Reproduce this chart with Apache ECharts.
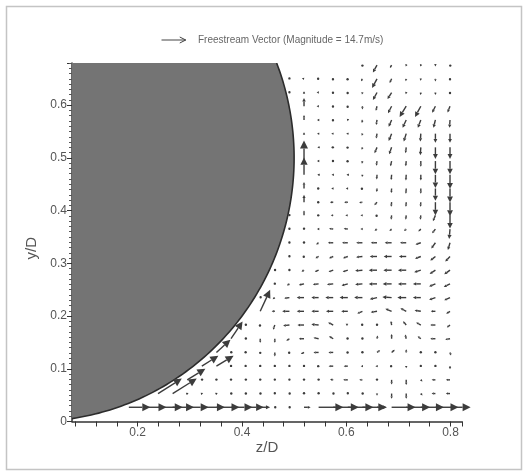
<!DOCTYPE html>
<html><head><meta charset="utf-8">
<script src="https://cdn.jsdelivr.net/npm/echarts@6/dist/echarts.min.js"></script>
<style>html,body{margin:0;padding:0;background:#fff}#c{width:528px;height:472px}</style>
</head><body><div id="c"></div>
<script>
// ---- data ----
const zCols = [0.183,0.211,0.239,0.267,0.295,0.323,0.351,0.379,0.407,0.435,0.463,0.491,0.519,0.547,0.575,0.603,0.631,0.659,0.687,0.715,0.743,0.771,0.799];
const yRows = [0.676,0.650,0.624,0.598,0.572,0.546,0.520,0.494,0.468,0.442,0.416,0.391,0.365,0.339,0.313,0.287,0.261,0.235,0.209,0.183,0.157,0.131,0.105,0.079,0.053,0.027];
const rowStart = [16,11,11,12,12,12,12,12,12,12,12,11,11,11,11,10,10,9,9,8,7,6,5,4,2,0];
// velocity components (m/s), one row per yRows entry, from column rowStart onward
const U = [
 [0,-2.5,-1,-0.3,-0.3,0,0.3],
 [0,-1.3,-0.6,-0.3,-0.3,-0.8,-3,-1.2,-0.3,-0.2,0,0],
 [0,0,-1.2,-0.3,-0.2,-0.3,-2.5,-2.5,-0.3,-0.2,0,0],
 [0,-1.2,-0.3,-0.2,0,-0.7,-2.2,-4,-3.5,-2,-1.5],
 [0,-1,-0.3,-0.2,-0.3,-0.5,-1.8,-2.2,-1.8,-1.2,-0.3],
 [0,-1,-1.2,-1,-0.4,-0.5,-1.8,-1.5,-0.3,0,0],
 [0,-0.8,-0.5,-0.3,-0.4,-1.5,-1.5,-0.4,-0.3,0,0],
 [0,-1,-0.3,-0.3,-0.3,-0.4,-0.7,-0.3,0,0,0],
 [0,-0.8,-1,-0.8,-0.2,-0.2,-0.3,-0.2,0,0,0],
 [0,-0.5,-1.2,-1.2,-0.6,-0.2,-0.2,-0.2,0,0,0],
 [0,-0.5,-2,-2.2,-2,-1.6,-0.3,-0.2,-0.2,0,0],
 [0,0,-0.5,-1.5,-1.5,-1.2,-0.5,-0.3,-0.3,-0.3,-1.5,0],
 [0,0,-1,-2.5,-2.5,-1.2,-1.5,-1.3,-1.3,-1.5,-2,-0.5],
 [0,0,-1.5,-3.2,-3.5,-3.8,-3.8,-4.2,-3.8,-3.2,-2.5,-1.3],
 [0,-0.3,-1.9,-2.5,-2.9,-3.8,-4.4,-4.8,-4.4,-3.5,-3.1,-2.9],
 [0.3,0,-1.5,-2.3,-2.8,-3.1,-4.4,-5,-5,-5,-4,-3.5,-3.5],
 [0,-1.5,-3.1,-3.5,-3.8,-3.8,-4.4,-5,-5.4,-5,-4.8,-3.8,-3.8],
 [0.5,-1.3,-3.1,-4.4,-4.4,-4.8,-5,-5,-4.4,-5.6,-5.4,-4.8,-3.8,-3.5],
 [6,-1.9,-4.4,-4.4,-4.4,-4.4,-4,-3.1,-3.8,-3.8,-3.5,-3.8,-2.8,-2.3],
 [0.3,-0.3,-1,-3.8,-4,-4.4,-3.1,-1.3,-0.3,0,-0.4,-1.9,-2.8,-3.1,-1.9],
 [7,0.3,0,0,-1.9,-3.1,-3.1,-2.5,-0.3,0,0.4,0,-0.6,-1.9,-3.1,-2.9],
 [8.5,0.3,0,0,0,-0.3,-1.9,-3.1,-2.9,-0.3,0,1.9,1.9,0,0,0,0.6],
 [10,10.4,0,0,0,0,0,0,-0.5,-2.8,-2.5,-1,-1,-0.6,0,0,0,0],
 [11,0.3,0,0,0.3,0,0,0,0,0,-1.9,-2.8,-1.9,0,0,0,1,-2.3,-2.5],
 [14.4,14.6,0.8,0.8,0.8,0.3,0.3,0.3,0,0.3,0,0,0.3,0,0.3,0,0,0,1,-2.3,-2.5],
 [13,14,15,13,13,14,14,13,11,6,0.5,0.3,4,15,15.5,15.5,14.5,6,14.5,14.5,14,14,12.5]
];
const V = [
 [-0.6,-4.5,-1.8,-0.9,-0.9,-0.8,-0.6],
 [0.5,0.3,0,-0.5,-0.6,-1.5,-5.5,-2.5,-1.5,-1.2,-1.6,-0.6],
 [0.3,0.8,0.2,-0.3,-0.6,-1.2,-4.5,-4,-1,-1.5,-1.5,-0.6],
 [5,0,-0.3,-0.6,-2,-2.8,-4.2,-6.5,-6.5,-4,-3.8],
 [3,0,-0.3,-0.8,-1.8,-3,-4.2,-4.8,-4.8,-4.8,-4.8],
 [0.8,0,0,0,-1.2,-3,-4.5,-4.8,-4.8,-5.5,-5.5],
 [1,0,0,-0.3,-1.5,-3.5,-4.2,-3.5,-4.8,-7,-7],
 [12.5,0,0,-0.3,-1.6,-2.8,-3.2,-3.2,-3.5,-8,-8],
 [10.5,0,0,0,-1.4,-2.8,-3.2,-3.5,-3.5,-8,-8.5],
 [4,0,0,0,-0.3,-2.2,-2.8,-3.2,-3.2,-7.5,-8.5],
 [4.5,0,0,0,-0.3,-1.8,-2.8,-2.8,-2.8,-8,-8.5],
 [0.3,3,0,0,0,0,-0.5,-2.6,-2.6,-2.6,-3.5,-8],
 [0.3,0.5,0,0.3,0.3,0,-1,-1.2,-1.2,-1.5,-2.5,-6],
 [0.3,0.3,-1,0,0,0,0,0,0,-1,-3.5,-4.4],
 [0.3,-0.3,-1,-1,-1,-0.4,0,0,0,-1.3,-2.5,-3.1],
 [0.3,0.3,-1,-1,-1,-1,-0.4,0,0,0,-1.3,-2.3,-2.5],
 [0.3,-1,-0.6,-0.4,-0.4,-1,-0.4,0,0,0,0,-1.6,-1.9],
 [0.5,-1,-0.4,0,0,0,0,0,-1,0.4,0,0,-1.3,-1.6],
 [13,0,0,0,0,0,0,-1.3,-0.6,1.6,1.9,0.6,0,-1.5],
 [0.3,-0.5,-2.8,-0.4,0,0.4,1.6,0.8,0.3,0.3,2.5,2.3,1.6,0,-1.5],
 [10.5,0.3,-2.5,-2.5,-1.3,0,0.6,1.5,0.3,0.3,1.9,2.9,2.5,1.5,0,-0.4],
 [7.7,0.3,0.3,-0.5,-2.5,-0.3,-1,0,0,0,0.3,1.3,1.6,1.9,0.3,0.3,-1.9],
 [6.3,6.3,0.3,0.3,0.3,0.3,0.3,0.3,0,0,0,0,0,0,-1.3,0.3,0.3,-1.9],
 [6.8,0.3,0.3,0.3,0.3,0.3,0.3,0.3,0.3,0.3,0.3,0,0,0.3,-2.8,-3.1,-1,0,0],
 [9.1,9.1,0.3,0.3,0.3,0,0,0,0.3,0,0.3,0.3,0,0.3,0,-1.3,-3.1,-3.1,-1.2,0,0],
 [0,0,0,0,0,0,0,0,0,0,0,0,0,0,0,0,0,0,0,0,0,0,0]
];
const freestream = 14.7;          // m/s, legend vector
const cylinder = [0, 0.5, 0.5];   // centre z/D, centre y/D, radius (D units)
const xTickLabels = [0.2, 0.4, 0.6, 0.8];
const yTickLabels = [0, 0.1, 0.2, 0.3, 0.4, 0.5, 0.6];

// ---- layout / style ----
const X_MIN = 0.074, X_MAX = 0.822, Y_MIN = 0, Y_MAX = 0.68;
const G = {left: 72, right: 66, top: 63, bottom: 50.5};
const PX_PER_X = (528 - G.left - G.right) / (X_MAX - X_MIN);
const TICK_START = 0.08;
const S = 1.65;                   // px per m/s
const ARROW = '#3c3c3c';
const TXT = '#555';
const FONT = 'Liberation Sans, Arial, sans-serif';

const vecData = [];
yRows.forEach((y, j) => {
  U[j].forEach((u, i) => {
    vecData.push([zCols[rowStart[j] + i], y, u, V[j][i]]);
  });
});

function renderVector(params, api) {
  const p = api.coord([api.value(0), api.value(1)]);
  const dx = api.value(2) * S, dy = -api.value(3) * S;
  const L = Math.hypot(dx, dy);
  if (L < 1.3) {
    return {type: 'circle', shape: {cx: p[0] + dx / 2, cy: p[1] + dy / 2, r: 1.2}, style: {fill: ARROW}};
  }
  const ux = dx / L, uy = dy / L;
  const hl = Math.min(Math.max(L * 0.42, 2.2), 8);
  const hw = Math.max(hl * 0.5, 1.2);
  const tip = [p[0] + dx, p[1] + dy];
  const b = [tip[0] - ux * hl, tip[1] - uy * hl];
  return {type: 'group', children: [
    {type: 'line', shape: {x1: p[0], y1: p[1], x2: b[0], y2: b[1]}, style: {stroke: ARROW, lineWidth: 1.4}},
    {type: 'polygon', shape: {points: [tip, [b[0] - uy * hw, b[1] + ux * hw], [b[0] + uy * hw, b[1] - ux * hw]]}, style: {fill: ARROW}}
  ]};
}

function renderCylinder(params, api) {
  const cz = api.value(0), cy = api.value(1), r = api.value(2);
  const th0 = Math.asin((Y_MAX - cy) / r);
  const th1 = -Math.acos((X_MIN - cz) / r);
  const arc = [];
  const N = 120;
  for (let i = 0; i <= N; i++) {
    const t = th0 + (th1 - th0) * i / N;
    arc.push(api.coord([cz + r * Math.cos(t), cy + r * Math.sin(t)]));
  }
  const poly = [api.coord([X_MIN, Y_MAX])].concat(arc, [api.coord([X_MIN, Y_MIN])]);
  return {type: 'group', children: [
    {type: 'polygon', shape: {points: poly}, style: {fill: '#747474'}},
    {type: 'polyline', shape: {points: arc}, style: {stroke: '#2c2c2c', lineWidth: 1.6, fill: null}}
  ]};
}

const near = (v, arr) => arr.some(a => Math.abs(a - v) < 1e-6);
const chart = echarts.init(document.getElementById('c'), null, {renderer: 'canvas'});
const legendLen = freestream * S;
chart.setOption({
  animation: false,
  backgroundColor: '#fff',
  grid: [
    {left: G.left, right: G.right, top: G.top, bottom: G.bottom},
    {left: G.left + (TICK_START - X_MIN) * PX_PER_X, right: G.right, top: G.top, bottom: G.bottom}
  ],
  xAxis: [
    {type: 'value', gridIndex: 0, min: X_MIN, max: X_MAX, splitLine: {show: false},
     axisLine: {lineStyle: {color: '#333', width: 1.5}}, axisTick: {show: false}, axisLabel: {show: false},
     name: 'z/D', nameLocation: 'middle', nameGap: 19,
     nameTextStyle: {fontSize: 15, color: TXT, fontFamily: FONT}},
    {type: 'value', gridIndex: 1, min: TICK_START, max: X_MAX, interval: 0.04, splitLine: {show: false},
     axisLine: {show: false}, axisTick: {length: 5, lineStyle: {color: '#333', width: 1}},
     axisLabel: {margin: 5, fontSize: 12, color: TXT, fontFamily: FONT,
       formatter: v => near(+v.toFixed(4), xTickLabels) ? (+v).toFixed(1) : ''}}
  ],
  yAxis: [
    {type: 'value', gridIndex: 0, min: Y_MIN, max: Y_MAX, interval: 0.1, splitLine: {show: false},
     axisLine: {lineStyle: {color: '#333', width: 1.5}},
     axisTick: {length: 5, lineStyle: {color: '#333'}},
     minorTick: {show: true, splitNumber: 10, length: 3, lineStyle: {color: '#555'}},
     axisLabel: {margin: 5, fontSize: 12, color: TXT, fontFamily: FONT,
       formatter: v => near(+v.toFixed(4), yTickLabels) ? (v === 0 ? '0' : (+v).toFixed(1)) : ''},
     name: 'y/D', nameLocation: 'middle', nameGap: 25, nameRotate: 90,
     nameTextStyle: {fontSize: 15, color: TXT, fontFamily: FONT, padding: [0, 12, 0, 0]}},
    {type: 'value', gridIndex: 1, min: Y_MIN, max: Y_MAX, show: false}
  ],
  graphic: [
    {type: 'rect', shape: {x: 6.5, y: 6.5, width: 515, height: 463}, style: {fill: null, stroke: '#c4c4c4', lineWidth: 1.5}, silent: true},
    {type: 'line', shape: {x1: 161.5, y1: 40, x2: 161.5 + legendLen, y2: 40}, style: {stroke: '#444', lineWidth: 1}},
    {type: 'polyline', shape: {points: [[161.5 + legendLen - 6, 37], [161.5 + legendLen, 40], [161.5 + legendLen - 6, 43]]}, style: {stroke: '#444', lineWidth: 1, fill: null}},
    {type: 'text', x: 198, y: 40, style: {text: 'Freestream Vector (Magnitude = ' + freestream + 'm/s)', fill: '#666', fontSize: 10, fontFamily: FONT, verticalAlign: 'middle'}}
  ],
  series: [
    {type: 'custom', xAxisIndex: 0, yAxisIndex: 0, renderItem: renderCylinder, data: [cylinder], clip: true, silent: true,
     dimensions: ['z', 'y', 'r'], encode: {x: 0, y: 1}},
    {type: 'custom', xAxisIndex: 0, yAxisIndex: 0, renderItem: renderVector, data: vecData, clip: false, silent: true,
     dimensions: ['z', 'y', 'u', 'v'], encode: {x: 0, y: 1}}
  ]
});
</script></body></html>
